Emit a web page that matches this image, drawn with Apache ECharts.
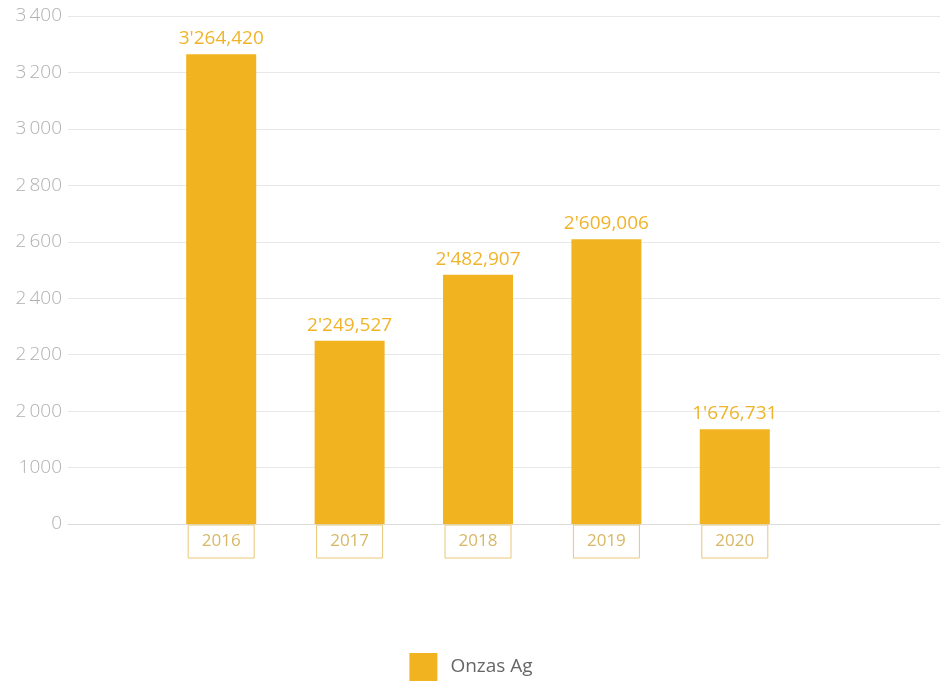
<!DOCTYPE html>
<html>
<head>
<meta charset="utf-8">
<title>Onzas Ag</title>
<script src="https://cdn.jsdelivr.net/npm/echarts@6/dist/echarts.min.js"></script>
<style>
  html, body { margin: 0; padding: 0; background: #fff; }
  #chart { width: 942px; height: 686px; }
</style>
</head>
<body>
<div id="chart"></div>
<script>
  // data
  var years = ['2016', '2017', '2018', '2019', '2020'];
  var onzas = [3264420, 2249527, 2482907, 2609006, 1676731];
  // the y axis is not linear: ticks are evenly spaced but these are their values (thousands)
  var tickValues = [0, 1000, 2000, 2200, 2400, 2600, 2800, 3000, 3200, 3400];
  var tickLabels = ['0', '1000', '2\u2009000', '2\u2009200', '2\u2009400', '2\u2009600', '2\u2009800', '3\u2009000', '3\u2009200', '3\u2009400'];

  var gold = '#f2b320';

  // value (in ounces) -> position on the tick-index scale
  function toScale(v){
    var k = v / 1000;
    for (var i = 1; i < tickValues.length; i++) {
      if (k <= tickValues[i]) {
        return (i - 1) + (k - tickValues[i - 1]) / (tickValues[i] - tickValues[i - 1]);
      }
    }
    return tickValues.length - 1;
  }

  function fmt(v){
    var s = String(v);
    var last = s.slice(-3), rest = s.slice(0, -3);
    var head = rest.replace(/\B(?=(\d{3})+(?!\d))/g, "'");
    return head ? head + ',' + last : last;
  }

  var chart = echarts.init(document.getElementById('chart'));

  var option = {
    textStyle: { fontFamily: '"Open Sans", sans-serif' },
    animation: false,
    grid: [
      { left: 68, right: 2, top: 16, bottom: 162 },
      { left: 157, width: 642, top: 16, bottom: 162 }
    ],
    xAxis: [
      {
        gridIndex: 0, type: 'category', data: years,
        axisLine: { show: true, lineStyle: { color: '#dcdcdc' } },
        axisTick: { show: false }, axisLabel: { show: false }
      },
      {
        gridIndex: 1, type: 'category', data: years,
        axisLine: { show: false }, axisTick: { show: false },
        axisLabel: {
          margin: 1,
          color: '#d6b866',
          fontSize: 17,
          borderColor: '#e8c777',
          borderWidth: 1,
          width: 66,
          height: 33,
          lineHeight: 33,
          align: 'center',
          verticalAlign: 'top'
        }
      }
    ],
    yAxis: [
      {
        gridIndex: 0, type: 'value', min: 0, max: 9, interval: 1,
        axisLine: { show: false }, axisTick: { show: false },
        axisLabel: {
          margin: 6,
          color: '#b0b0b0',
          fontSize: 19,
          fontWeight: 300,
          formatter: function(v){ return tickLabels[Math.round(v)]; }
        },
        splitLine: { lineStyle: { color: '#e8e8e8' } }
      },
      {
        gridIndex: 1, type: 'value', min: 0, max: 9, interval: 1, show: false
      }
    ],
    legend: {
      bottom: 0,
      left: 'center',
      itemWidth: 28,
      itemHeight: 28,
      itemGap: 10,
      icon: 'rect',
      textStyle: { color: '#666', fontSize: 19, padding: [0, 0, 0, 8] },
      data: ['Onzas Ag']
    },
    series: [
      {
        name: 'Onzas Ag',
        type: 'bar',
        xAxisIndex: 1,
        yAxisIndex: 1,
        barWidth: 70,
        itemStyle: { color: gold },
        label: {
          show: true,
          position: 'top',
          distance: 6,
          color: '#f0b42a',
          fontSize: 19,
          formatter: function(p){ return fmt(onzas[p.dataIndex]); }
        },
        data: onzas.map(toScale)
      }
    ]
  };

  chart.setOption(option);
</script>
</body>
</html>
